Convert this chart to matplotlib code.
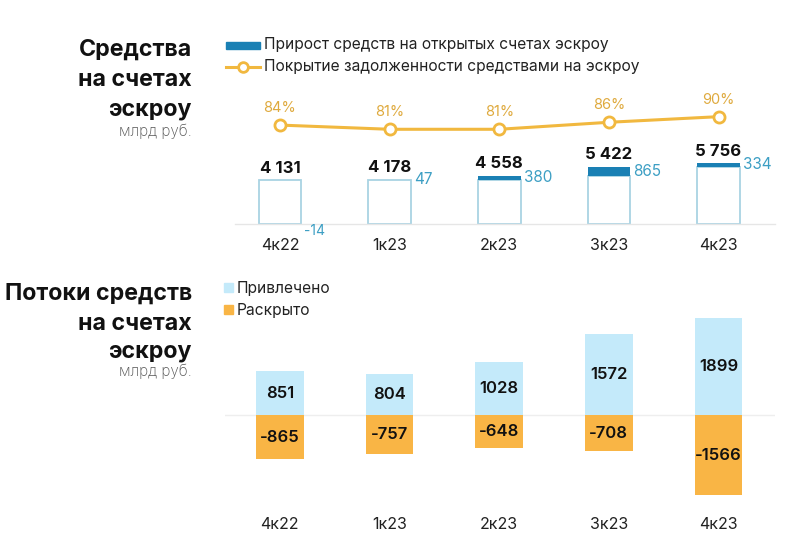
import matplotlib
matplotlib.use("Agg")
import matplotlib.pyplot as plt
from matplotlib.lines import Line2D
from matplotlib.patches import Rectangle

plt.rcParams['font.family'] = ['Inter', 'DejaVu Sans']

quarters = ["4к22", "1к23", "2к23", "3к23", "4к23"]
escrow_total = [4131, 4178, 4558, 5422, 5756]
escrow_growth = [-14, 47, 380, 865, 334]
coverage_pct = [84, 81, 81, 86, 90]
inflow = [851, 804, 1028, 1572, 1899]
outflow = [-865, -757, -648, -708, -1566]

W, H = 800, 548
fig = plt.figure(figsize=(W / 100, H / 100), dpi=100)

def px_axes(x0, y0, x1, y1):
    return fig.add_axes([x0 / W, 1 - y1 / H, (x1 - x0) / W, (y1 - y0) / H])

DARK_BLUE = "#1a80b4"
OUTLINE = "#a9d3e3"
TEAL = "#3d9fc4"
GOLD = "#f1b83f"
GOLD_TXT = "#dfaa3e"
LIGHT_BLUE = "#c4eafa"
ORANGE = "#f9b545"
GRID = "#e6e6e6"

x = list(range(len(quarters)))
xlim = (-0.41, 4.515)

# ---------- top chart ----------
ax1 = px_axes(235, 100, 775, 224)
ax1.set_xlim(*xlim)
ax1.set_ylim(0, 124 * 94.4)
base = [t - max(g, 0) for t, g in zip(escrow_total, escrow_growth)]
pos_growth = [max(g, 0) for g in escrow_growth]
ax1.bar(x, base, width=0.39, facecolor="white", edgecolor=OUTLINE, linewidth=1.3, zorder=2)
ax1.bar(x, pos_growth, bottom=base, width=0.39, color=DARK_BLUE, linewidth=0, zorder=3)
for i, (t, g) in enumerate(zip(escrow_total, escrow_growth)):
    ax1.annotate(f"{t:,}".replace(",", " "), (i, t), xytext=(0, 12), textcoords="offset pixels",
                 ha="center", va="center", fontsize=12, fontweight="bold", color="#111111")
    if g >= 0:
        ax1.annotate(f"{g}", (i + 0.195, t - g / 2), xytext=(3, 0), textcoords="offset pixels",
                     ha="left", va="center", fontsize=11, color=TEAL)
    else:
        ax1.annotate(f"{g}", (i + 0.195, 0), xytext=(3, -7), textcoords="offset pixels",
                     ha="left", va="center", fontsize=10, color=TEAL)
for s in ["top", "right", "left"]:
    ax1.spines[s].set_visible(False)
ax1.spines["bottom"].set_color(GRID)
ax1.spines["bottom"].set_linewidth(1)
ax1.set_yticks([])
ax1.set_xticks(x)
ax1.set_xticklabels(quarters, fontsize=11.5, color="#222222")
ax1.tick_params(axis="x", length=0, pad=10)
ax1.patch.set_alpha(0)

ax1b = ax1.twinx()
ax1b.set_ylim(13.4, 101.9)
ax1b.plot(x, coverage_pct, color=GOLD, linewidth=2.2, marker="o", markersize=8,
          markerfacecolor="white", markeredgecolor=GOLD, markeredgewidth=2, zorder=4)
for i, p in enumerate(coverage_pct):
    ax1b.annotate(f"{p}%", (i, p), xytext=(0, 17), textcoords="offset pixels",
                  ha="center", va="center", fontsize=10.5, color=GOLD_TXT)
ax1b.axis("off")

# legend top
fig.patches.append(Rectangle((226 / W, 1 - 48.5 / H), 34 / W, 6 / H,
                             transform=fig.transFigure, color=DARK_BLUE))
fig.lines.append(Line2D([226 / W, 260 / W], [1 - 67 / H, 1 - 67 / H], transform=fig.transFigure,
                        color=GOLD, linewidth=2.2))
fig.lines.append(Line2D([243 / W], [1 - 67 / H], transform=fig.transFigure, marker="o",
                        markersize=7, markerfacecolor="white", markeredgecolor=GOLD,
                        markeredgewidth=2, color=GOLD))
fig.text(264 / W, 1 - 45 / H, "Прирост средств на открытых счетах эскроу",
         ha="left", va="center", fontsize=11.2, color="#222222")
fig.text(264 / W, 1 - 67 / H, "Покрытие задолженности средствами на эскроу",
         ha="left", va="center", fontsize=11.2, color="#222222")

# ---------- bottom chart ----------
ax2 = px_axes(225, 305, 775, 500)
ax2.set_xlim(-0.5, 4.515)
sc = 19.5
ax2.set_ylim(-(500 - 415) * sc, (415 - 305) * sc)
ax2.bar(x, inflow, width=0.435, color=LIGHT_BLUE, linewidth=0, zorder=2)
ax2.bar(x, outflow, width=0.435, color=ORANGE, linewidth=0, zorder=2)
ax2.axhline(0, color="#eeeeee", linewidth=1, zorder=1)
for i, (a, b) in enumerate(zip(inflow, outflow)):
    ax2.text(i, a / 2, f"{a}", ha="center", va="center", fontsize=12, fontweight="semibold", color="#111111")
    ax2.text(i, b / 2, f"{b}", ha="center", va="center", fontsize=12, fontweight="semibold", color="#111111")
for s in ax2.spines.values():
    s.set_visible(False)
ax2.set_yticks([])
ax2.set_xticks(x)
ax2.set_xticklabels(quarters, fontsize=11.5, color="#222222")
ax2.tick_params(axis="x", length=0, pad=12)
ax2.patch.set_alpha(0)

# legend bottom
fig.patches.append(Rectangle((224 / W, 1 - 292 / H), 9 / W, 9 / H, transform=fig.transFigure, color=LIGHT_BLUE))
fig.patches.append(Rectangle((224 / W, 1 - 314 / H), 9 / W, 9 / H, transform=fig.transFigure, color=ORANGE))
fig.text(237 / W, 1 - 288 / H, "Привлечено", ha="left", va="center", fontsize=11.2, color="#222222")
fig.text(237 / W, 1 - 310 / H, "Раскрыто", ha="left", va="center", fontsize=11.2, color="#222222")

# ---------- titles ----------
def title_block(lines, baselines, sub_baseline):
    for t, yb in zip(lines, baselines):
        fig.text(192 / W, 1 - yb / H, t, ha="right", va="baseline", fontsize=16.7,
                 fontweight="bold", color="#111111")
    fig.text(192 / W, 1 - sub_baseline / H, "млрд руб.", ha="right", va="baseline",
             fontsize=11, fontweight="light", color="#555555")

title_block(["Средства", "на счетах", "эскроу"], [56, 86, 115], 136)
title_block(["Потоки средств", "на счетах", "эскроу"], [300, 330, 358], 376)

fig.savefig("out.png", dpi=100, facecolor="white")
